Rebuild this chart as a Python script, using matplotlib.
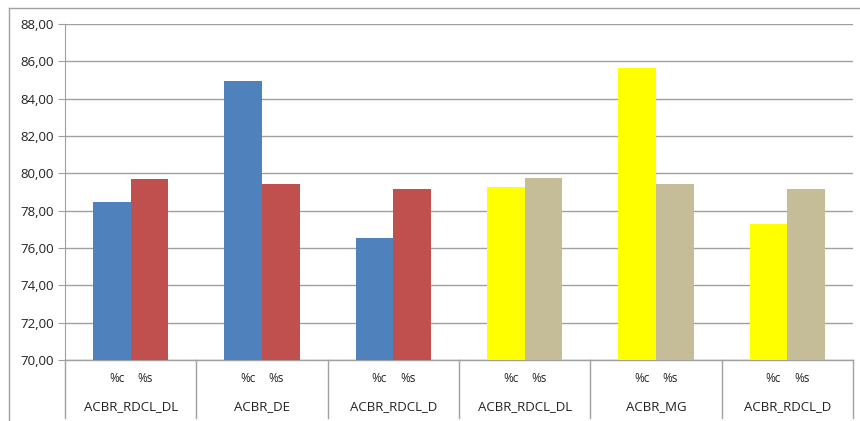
import numpy as np
import matplotlib.pyplot as plt
from matplotlib.lines import Line2D

# data
groups = ["ACBR_RDCL_DL", "ACBR_DE", "ACBR_RDCL_D", "ACBR_RDCL_DL", "ACBR_MG", "ACBR_RDCL_D"]
sub_labels = ["%c", "%s"]
pct_c = [78.45, 84.95, 76.52, 79.25, 85.65, 77.28]
pct_s = [79.70, 79.42, 79.16, 79.75, 79.42, 79.16]
c_colors = ["#4F81BD"] * 3 + ["#FFFF00"] * 3
s_colors = ["#C0504D"] * 3 + ["#C4BD97"] * 3

plt.rcParams['font.family'] = ['Open Sans', 'DejaVu Sans']
grid_c = "#A0A0A0"

fig = plt.figure(figsize=(8.6, 4.21), dpi=100)
ax = fig.add_axes([65 / 860, 1 - 360 / 421, (853 - 65) / 860, (360 - 24) / 421])

x = np.arange(len(groups))
w = 0.286
ax.bar(x - w / 2, np.array(pct_c) - 70, w, bottom=70, color=c_colors, zorder=3)
ax.bar(x + w / 2, np.array(pct_s) - 70, w, bottom=70, color=s_colors, zorder=3)

ax.set_xlim(-0.5, len(groups) - 0.5)
ax.set_ylim(70, 88)
yt = np.arange(70, 89, 2)
ax.set_yticks(yt)
ax.set_yticklabels([f"{v:.2f}".replace(".", ",") for v in yt], fontsize=9.5, color="#222222")
ax.tick_params(axis="y", length=5, color=grid_c, pad=3)
ax.set_xticks([])
ax.grid(axis="y", color=grid_c, linewidth=1, zorder=0)
for s in ["top", "right", "bottom"]:
    ax.spines[s].set_visible(False)
ax.spines["left"].set_color(grid_c)

# two level category axis
depth = (418 - 360) / 336
for b in np.arange(-0.5, len(groups)):
    ax.add_line(Line2D([b, b], [0, -depth], transform=ax.get_xaxis_transform(),
                       color=grid_c, lw=1, clip_on=False))
ax.add_line(Line2D([-0.5, len(groups) - 0.5], [0, 0], transform=ax.get_xaxis_transform(),
                   color=grid_c, lw=1, clip_on=False))
for i, g in enumerate(groups):
    ax.text(i - 0.105, -(379 - 360) / 336, sub_labels[0], transform=ax.get_xaxis_transform(),
            ha="center", va="center", fontsize=8.5, color="#222222")
    ax.text(i + 0.11, -(379 - 360) / 336, sub_labels[1], transform=ax.get_xaxis_transform(),
            ha="center", va="center", fontsize=8.5, color="#222222")
    ax.text(i, -(407 - 360) / 336, g, transform=ax.get_xaxis_transform(),
            ha="center", va="center", fontsize=9.5, color="#222222")

# outer chart frame
fig.add_artist(Line2D([9 / 860, 9 / 860], [0, 1 - 8 / 421], color=grid_c, lw=1))
fig.add_artist(Line2D([9 / 860, 1], [1 - 8 / 421, 1 - 8 / 421], color=grid_c, lw=1))

fig.savefig("out.png", dpi=100)
